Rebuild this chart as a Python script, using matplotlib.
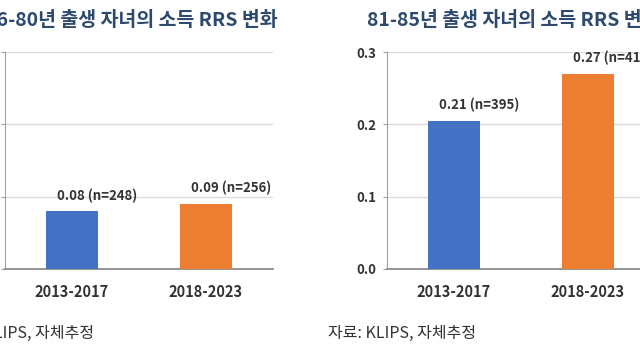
import numpy as np
import matplotlib
matplotlib.use("Agg")
import matplotlib.pyplot as plt

plt.rcParams['font.family'] = ['Noto Sans CJK KR', 'DejaVu Sans']

periods = ["2013-2017", "2018-2023"]
rrs_76_80 = [0.08, 0.09]
n_76_80 = [248, 256]
rrs_81_85 = [0.205, 0.27]
n_81_85 = [395, 414]
label_76_80 = ["0.08", "0.09"]
label_81_85 = ["0.21", "0.27"]
titles = ["76-80년 출생 자녀의 소득 RRS 변화", "81-85년 출생 자녀의 소득 RRS 변화"]
source = "자료: KLIPS, 자체추정"
yticks = [0.0, 0.1, 0.2, 0.3]

bar_colors = ["#4472C4", "#ED7D31"]
title_color = "#2D4A6E"
text_color = "#333333"

W, H = 640, 360
fig = plt.figure(figsize=(6.4, 3.6), dpi=100)

def px_axes(left, bottom_y, top_y, width):
    # pixel coords (top-left origin) -> figure fraction
    return fig.add_axes([left / W, (H - bottom_y) / H, width / W, (bottom_y - top_y) / H])

def draw_panel(ax, vals, ns, labels, show_yticklabels):
    x = np.arange(len(periods))
    ax.bar(x, vals, width=0.39, color=bar_colors, zorder=3)
    ax.set_xlim(-0.5, 1.5)
    ax.set_ylim(0, 0.3)
    ax.set_yticks(yticks)
    ax.set_yticklabels([f"{t:.1f}" for t in yticks] if show_yticklabels else [])
    ax.set_xticks(x)
    ax.set_xticklabels(periods)
    ax.grid(axis='y', color="#DCDCDC", linewidth=1, zorder=0)
    for s in ['top', 'right']:
        ax.spines[s].set_visible(False)
    ax.spines['left'].set_color("#A0A0A0")
    ax.spines['bottom'].set_color("#8C8C8C")
    ax.spines['bottom'].set_linewidth(1.3)
    ax.tick_params(axis='y', length=3, color="#A0A0A0", pad=5, labelsize=9.5, labelcolor=text_color)
    ax.tick_params(axis='x', length=0, pad=11, labelsize=10.5, labelcolor=text_color)
    for lbl in ax.get_xticklabels() + ax.get_yticklabels():
        lbl.set_fontweight('bold')
    for xi, v, n, l in zip(x, vals, ns, labels):
        ax.annotate(f"{l} (n={n})", (xi, v), xytext=(18, 6), textcoords='offset points',
                    ha='center', va='bottom', fontsize=9.5, color=text_color, fontweight='bold')

ax1 = px_axes(5, 269, 52, 268)
draw_panel(ax1, rrs_76_80, n_76_80, label_76_80, False)
ax2 = px_axes(387, 269, 52, 268)
draw_panel(ax2, rrs_81_85, n_81_85, label_81_85, True)

fig.text(-15 / W, 1 - 20 / H, titles[0], ha='left', va='center', fontsize=14,
         fontweight='bold', color=title_color)
fig.text(367 / W, 1 - 20 / H, titles[1], ha='left', va='center', fontsize=14,
         fontweight='bold', color=title_color)
fig.text(-54 / W, 1 - 333 / H, source, ha='left', va='center', fontsize=11.5, color=text_color)
fig.text(328 / W, 1 - 333 / H, source, ha='left', va='center', fontsize=11.5, color=text_color)

fig.savefig("out.png", dpi=100)
